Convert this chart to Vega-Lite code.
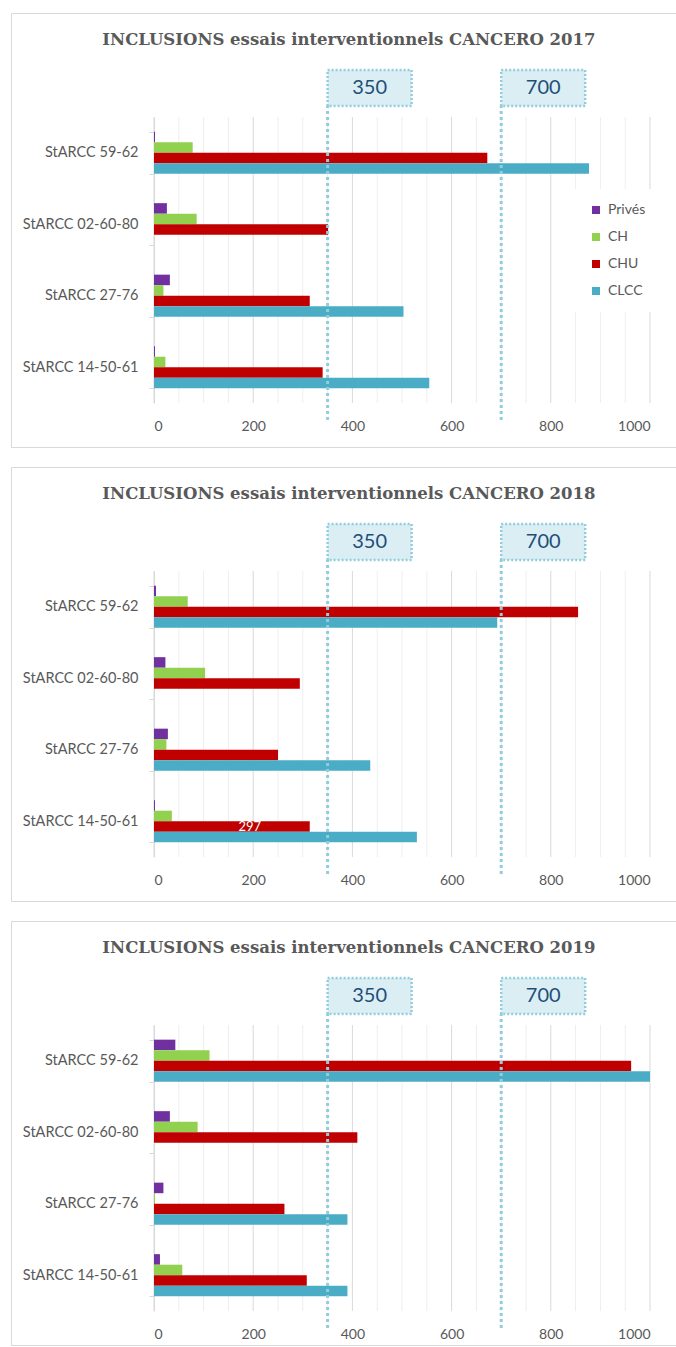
{
  "$schema": "https://vega.github.io/schema/vega-lite/v6.json",
  "padding": {"left": 10, "top": 4, "right": 0, "bottom": 0},
  "background": "white",
  "spacing": 10,
  "datasets": {
    "bars": [
      {"year": 2017, "site": "StARCC 59-62", "type": "Privés", "n": 2},
      {"year": 2017, "site": "StARCC 59-62", "type": "CH", "n": 78},
      {"year": 2017, "site": "StARCC 59-62", "type": "CHU", "n": 672},
      {"year": 2017, "site": "StARCC 59-62", "type": "CLCC", "n": 877},
      {"year": 2017, "site": "StARCC 02-60-80", "type": "Privés", "n": 26},
      {"year": 2017, "site": "StARCC 02-60-80", "type": "CH", "n": 86},
      {"year": 2017, "site": "StARCC 02-60-80", "type": "CHU", "n": 351},
      {"year": 2017, "site": "StARCC 27-76", "type": "Privés", "n": 32},
      {"year": 2017, "site": "StARCC 27-76", "type": "CH", "n": 19},
      {"year": 2017, "site": "StARCC 27-76", "type": "CHU", "n": 314},
      {"year": 2017, "site": "StARCC 27-76", "type": "CLCC", "n": 503},
      {"year": 2017, "site": "StARCC 14-50-61", "type": "Privés", "n": 2},
      {"year": 2017, "site": "StARCC 14-50-61", "type": "CH", "n": 23},
      {"year": 2017, "site": "StARCC 14-50-61", "type": "CHU", "n": 340},
      {"year": 2017, "site": "StARCC 14-50-61", "type": "CLCC", "n": 555},
      {"year": 2018, "site": "StARCC 59-62", "type": "Privés", "n": 4},
      {"year": 2018, "site": "StARCC 59-62", "type": "CH", "n": 68},
      {"year": 2018, "site": "StARCC 59-62", "type": "CHU", "n": 855},
      {"year": 2018, "site": "StARCC 59-62", "type": "CLCC", "n": 692},
      {"year": 2018, "site": "StARCC 02-60-80", "type": "Privés", "n": 23},
      {"year": 2018, "site": "StARCC 02-60-80", "type": "CH", "n": 103},
      {"year": 2018, "site": "StARCC 02-60-80", "type": "CHU", "n": 294},
      {"year": 2018, "site": "StARCC 27-76", "type": "Privés", "n": 28},
      {"year": 2018, "site": "StARCC 27-76", "type": "CH", "n": 25},
      {"year": 2018, "site": "StARCC 27-76", "type": "CHU", "n": 250},
      {"year": 2018, "site": "StARCC 27-76", "type": "CLCC", "n": 436},
      {"year": 2018, "site": "StARCC 14-50-61", "type": "Privés", "n": 2},
      {"year": 2018, "site": "StARCC 14-50-61", "type": "CH", "n": 36},
      {"year": 2018, "site": "StARCC 14-50-61", "type": "CHU", "n": 314},
      {"year": 2018, "site": "StARCC 14-50-61", "type": "CLCC", "n": 530},
      {"year": 2019, "site": "StARCC 59-62", "type": "Privés", "n": 43},
      {"year": 2019, "site": "StARCC 59-62", "type": "CH", "n": 112},
      {"year": 2019, "site": "StARCC 59-62", "type": "CHU", "n": 962},
      {"year": 2019, "site": "StARCC 59-62", "type": "CLCC", "n": 1000},
      {"year": 2019, "site": "StARCC 02-60-80", "type": "Privés", "n": 32},
      {"year": 2019, "site": "StARCC 02-60-80", "type": "CH", "n": 88},
      {"year": 2019, "site": "StARCC 02-60-80", "type": "CHU", "n": 410},
      {"year": 2019, "site": "StARCC 27-76", "type": "Privés", "n": 19},
      {"year": 2019, "site": "StARCC 27-76", "type": "CH", "n": 2},
      {"year": 2019, "site": "StARCC 27-76", "type": "CHU", "n": 263},
      {"year": 2019, "site": "StARCC 27-76", "type": "CLCC", "n": 390},
      {"year": 2019, "site": "StARCC 14-50-61", "type": "Privés", "n": 12},
      {"year": 2019, "site": "StARCC 14-50-61", "type": "CH", "n": 57},
      {"year": 2019, "site": "StARCC 14-50-61", "type": "CHU", "n": 308},
      {"year": 2019, "site": "StARCC 14-50-61", "type": "CLCC", "n": 390}
    ],
    "thresholds": [
      {"t": 350, "label": "350"},
      {"t": 700, "label": "700"}
    ],
    "gridvals": [
      {"v": 0}, {"v": 50}, {"v": 100}, {"v": 150}, {"v": 200}, {"v": 250}, {"v": 300}, {"v": 350}, {"v": 400}, {"v": 450}, {"v": 500},
      {"v": 550}, {"v": 600}, {"v": 650}, {"v": 700}, {"v": 750}, {"v": 800}, {"v": 850}, {"v": 900}, {"v": 950}, {"v": 1000}
    ],
    "titles": [
      {"year": 2017, "title": "INCLUSIONS essais interventionnels CANCERO 2017"},
      {"year": 2018, "title": "INCLUSIONS essais interventionnels CANCERO 2018"},
      {"year": 2019, "title": "INCLUSIONS essais interventionnels CANCERO 2019"}
    ],
    "stray": [
      {"year": 2018, "site": "StARCC 14-50-61", "type": "CHU", "label": "297"}
    ]
  },
  "vconcat": [
    {
      "width": 666, "height": 434,
      "resolve": {"scale": {"y": "independent"}},
      "layer": [
        {
          "data": {"name": "gridvals"},
          "mark": {"type": "rule", "strokeWidth": 1},
          "encoding": {
            "x": {"field": "v", "type": "quantitative", "axis": {"title": null, "offset": -44, "domain": false, "ticks": false, "tickSize": 0, "grid": false, "labelPadding": 16, "format": "d", "values": [0, 200, 400, 600, 800, 1000], "labelFontSize": 14, "labelColor": "#595959", "labelFont": "Lato"}},
            "y": {"datum": 17, "type": "quantitative", "scale": {"domain": [0, 350], "range": [407, 57]}, "axis": null},
            "y2": {"datum": 303},
            "color": {"condition": {"test": "datum.v % 200 === 0", "value": "#d9d9d9"}, "value": "#eeeeee"}
          }
        },
        {
          "data": {"name": "bars"},
          "transform": [{"filter": "datum.year === 2017"}],
          "mark": {"type": "bar"},
          "encoding": {
            "x": {"field": "n", "type": "quantitative", "scale": {"domain": [0, 1000], "range": [143, 639], "nice": false},
              "axis": {"title": null, "offset": -44, "domain": false, "ticks": false, "tickSize": 0, "grid": false, "labelPadding": 16, "format": "d", "values": [0, 200, 400, 600, 800, 1000], "labelFontSize": 14, "labelColor": "#595959", "labelFont": "Lato"}},
            "y": {"field": "site", "type": "nominal", "sort": ["StARCC 59-62", "StARCC 02-60-80", "StARCC 27-76", "StARCC 14-50-61"], "scale": {"range": [104, 390], "paddingInner": 0.41, "paddingOuter": 0.205},
              "axis": {"title": null, "offset": -143, "grid": false, "domainColor": "#d9d9d9", "tickColor": "#d9d9d9", "tickSize": 5, "tickBand": "extent", "labelPadding": 11, "labelFontSize": 14.5, "labelColor": "#595959", "labelFont": "Lato"}},
            "yOffset": {"field": "type", "type": "nominal", "sort": ["Privés", "CH", "CHU", "CLCC"]},
            "color": {"field": "type", "type": "nominal", "scale": {"domain": ["Privés", "CH", "CHU", "CLCC"], "range": ["#7030a0", "#92d050", "#c00000", "#4bacc6"]},
              "legend": {"title": null, "orient": "none", "legendX": 564, "legendY": 176, "fillColor": "white", "padding": 14, "symbolType": "square", "symbolSize": 64, "symbolStrokeWidth": 0, "labelFontSize": 14, "labelColor": "#595959", "labelFont": "Lato", "rowPadding": 13, "labelOffset": 5}}
          }
        },
        {
          "data": {"name": "thresholds"},
          "mark": {"type": "rule", "color": "#92cddc", "strokeWidth": 3, "strokeDash": [3, 3]},
          "encoding": {
            "x": {"field": "t", "type": "quantitative", "axis": {"title": null, "offset": -44, "domain": false, "ticks": false, "tickSize": 0, "grid": false, "labelPadding": 16, "format": "d", "values": [0, 200, 400, 600, 800, 1000], "labelFontSize": 14, "labelColor": "#595959", "labelFont": "Lato"}},
            "y": {"datum": 0, "type": "quantitative", "scale": {"domain": [0, 350], "range": [407, 57]}, "axis": null},
            "y2": {"datum": 314}
          }
        },
        {
          "data": {"name": "thresholds"},
          "mark": {"type": "rect", "fill": "#daeef3", "stroke": "#92cddc", "strokeWidth": 2.5, "strokeDash": [2, 2], "x2Offset": 84},
          "encoding": {
            "x": {"field": "t", "type": "quantitative", "axis": {"title": null, "offset": -44, "domain": false, "ticks": false, "tickSize": 0, "grid": false, "labelPadding": 16, "format": "d", "values": [0, 200, 400, 600, 800, 1000], "labelFontSize": 14, "labelColor": "#595959", "labelFont": "Lato"}},
            "x2": {"field": "t"},
            "y": {"datum": 314, "type": "quantitative", "scale": {"domain": [0, 350], "range": [407, 57]}, "axis": null},
            "y2": {"datum": 350}
          }
        },
        {
          "data": {"name": "thresholds"},
          "mark": {"type": "text", "dx": 42, "align": "center", "baseline": "middle", "font": "Lato", "fontSize": 20, "color": "#1f4e79"},
          "encoding": {
            "x": {"field": "t", "type": "quantitative", "axis": {"title": null, "offset": -44, "domain": false, "ticks": false, "tickSize": 0, "grid": false, "labelPadding": 16, "format": "d", "values": [0, 200, 400, 600, 800, 1000], "labelFontSize": 14, "labelColor": "#595959", "labelFont": "Lato"}},
            "y": {"datum": 332, "type": "quantitative", "scale": {"domain": [0, 350], "range": [407, 57]}, "axis": null},
            "text": {"field": "label"}
          }
        },
        {
          "data": {"name": "titles"},
          "transform": [{"filter": "datum.year === 2017"}],
          "mark": {"type": "text", "align": "center", "baseline": "middle", "font": "DejaVu Serif", "fontSize": 16.5, "fontWeight": "bold", "color": "#595959"},
          "encoding": {
            "x": {"datum": 393, "type": "quantitative", "axis": {"title": null, "offset": -44, "domain": false, "ticks": false, "tickSize": 0, "grid": false, "labelPadding": 16, "format": "d", "values": [0, 200, 400, 600, 800, 1000], "labelFontSize": 14, "labelColor": "#595959", "labelFont": "Lato"}},
            "y": {"datum": 380, "type": "quantitative", "scale": {"domain": [0, 350], "range": [407, 57]}, "axis": null},
            "text": {"field": "title"}
          }
        }
      ]
    },
    {
      "width": 666, "height": 434,
      "resolve": {"scale": {"y": "independent"}},
      "layer": [
        {
          "data": {"name": "gridvals"},
          "mark": {"type": "rule", "strokeWidth": 1},
          "encoding": {
            "x": {"field": "v", "type": "quantitative", "axis": {"title": null, "offset": -44, "domain": false, "ticks": false, "tickSize": 0, "grid": false, "labelPadding": 16, "format": "d", "values": [0, 200, 400, 600, 800, 1000], "labelFontSize": 14, "labelColor": "#595959", "labelFont": "Lato"}},
            "y": {"datum": 17, "type": "quantitative", "scale": {"domain": [0, 350], "range": [407, 57]}, "axis": null},
            "y2": {"datum": 303},
            "color": {"condition": {"test": "datum.v % 200 === 0", "value": "#d9d9d9"}, "value": "#eeeeee"}
          }
        },
        {
          "data": {"name": "bars"},
          "transform": [{"filter": "datum.year === 2018"}],
          "mark": {"type": "bar"},
          "encoding": {
            "x": {"field": "n", "type": "quantitative", "scale": {"domain": [0, 1000], "range": [143, 639], "nice": false},
              "axis": {"title": null, "offset": -44, "domain": false, "ticks": false, "tickSize": 0, "grid": false, "labelPadding": 16, "format": "d", "values": [0, 200, 400, 600, 800, 1000], "labelFontSize": 14, "labelColor": "#595959", "labelFont": "Lato"}},
            "y": {"field": "site", "type": "nominal", "sort": ["StARCC 59-62", "StARCC 02-60-80", "StARCC 27-76", "StARCC 14-50-61"], "scale": {"range": [104, 390], "paddingInner": 0.41, "paddingOuter": 0.205},
              "axis": {"title": null, "offset": -143, "grid": false, "domainColor": "#d9d9d9", "tickColor": "#d9d9d9", "tickSize": 5, "tickBand": "extent", "labelPadding": 11, "labelFontSize": 14.5, "labelColor": "#595959", "labelFont": "Lato"}},
            "yOffset": {"field": "type", "type": "nominal", "sort": ["Privés", "CH", "CHU", "CLCC"]},
            "color": {"field": "type", "type": "nominal", "scale": {"domain": ["Privés", "CH", "CHU", "CLCC"], "range": ["#7030a0", "#92d050", "#c00000", "#4bacc6"]},
              "legend": {"title": null, "orient": "none", "legendX": 564, "legendY": 176, "fillColor": "white", "padding": 14, "symbolType": "square", "symbolSize": 64, "symbolStrokeWidth": 0, "labelFontSize": 14, "labelColor": "#595959", "labelFont": "Lato", "rowPadding": 13, "labelOffset": 5}}
          }
        },
        {
          "data": {"name": "stray"},
          "mark": {"type": "text", "color": "white", "font": "Lato", "fontSize": 13, "align": "center", "baseline": "middle"},
          "encoding": {
            "x": {"datum": 193, "type": "quantitative", "axis": {"title": null, "offset": -44, "domain": false, "ticks": false, "tickSize": 0, "grid": false, "labelPadding": 16, "format": "d", "values": [0, 200, 400, 600, 800, 1000], "labelFontSize": 14, "labelColor": "#595959", "labelFont": "Lato"}},
            "y": {"field": "site", "type": "nominal", "sort": ["StARCC 59-62", "StARCC 02-60-80", "StARCC 27-76", "StARCC 14-50-61"], "scale": {"domain": ["StARCC 59-62", "StARCC 02-60-80", "StARCC 27-76", "StARCC 14-50-61"], "range": [104, 390], "paddingInner": 0.41, "paddingOuter": 0.205}, "axis": null},
            "yOffset": {"field": "type", "type": "nominal", "sort": ["Privés", "CH", "CHU", "CLCC"]},
            "text": {"field": "label"}
          }
        },
        {
          "data": {"name": "thresholds"},
          "mark": {"type": "rule", "color": "#92cddc", "strokeWidth": 3, "strokeDash": [3, 3]},
          "encoding": {
            "x": {"field": "t", "type": "quantitative", "axis": {"title": null, "offset": -44, "domain": false, "ticks": false, "tickSize": 0, "grid": false, "labelPadding": 16, "format": "d", "values": [0, 200, 400, 600, 800, 1000], "labelFontSize": 14, "labelColor": "#595959", "labelFont": "Lato"}},
            "y": {"datum": 0, "type": "quantitative", "scale": {"domain": [0, 350], "range": [407, 57]}, "axis": null},
            "y2": {"datum": 314}
          }
        },
        {
          "data": {"name": "thresholds"},
          "mark": {"type": "rect", "fill": "#daeef3", "stroke": "#92cddc", "strokeWidth": 2.5, "strokeDash": [2, 2], "x2Offset": 84},
          "encoding": {
            "x": {"field": "t", "type": "quantitative", "axis": {"title": null, "offset": -44, "domain": false, "ticks": false, "tickSize": 0, "grid": false, "labelPadding": 16, "format": "d", "values": [0, 200, 400, 600, 800, 1000], "labelFontSize": 14, "labelColor": "#595959", "labelFont": "Lato"}},
            "x2": {"field": "t"},
            "y": {"datum": 314, "type": "quantitative", "scale": {"domain": [0, 350], "range": [407, 57]}, "axis": null},
            "y2": {"datum": 350}
          }
        },
        {
          "data": {"name": "thresholds"},
          "mark": {"type": "text", "dx": 42, "align": "center", "baseline": "middle", "font": "Lato", "fontSize": 20, "color": "#1f4e79"},
          "encoding": {
            "x": {"field": "t", "type": "quantitative", "axis": {"title": null, "offset": -44, "domain": false, "ticks": false, "tickSize": 0, "grid": false, "labelPadding": 16, "format": "d", "values": [0, 200, 400, 600, 800, 1000], "labelFontSize": 14, "labelColor": "#595959", "labelFont": "Lato"}},
            "y": {"datum": 332, "type": "quantitative", "scale": {"domain": [0, 350], "range": [407, 57]}, "axis": null},
            "text": {"field": "label"}
          }
        },
        {
          "data": {"name": "titles"},
          "transform": [{"filter": "datum.year === 2018"}],
          "mark": {"type": "text", "align": "center", "baseline": "middle", "font": "DejaVu Serif", "fontSize": 16.5, "fontWeight": "bold", "color": "#595959"},
          "encoding": {
            "x": {"datum": 393, "type": "quantitative", "axis": {"title": null, "offset": -44, "domain": false, "ticks": false, "tickSize": 0, "grid": false, "labelPadding": 16, "format": "d", "values": [0, 200, 400, 600, 800, 1000], "labelFontSize": 14, "labelColor": "#595959", "labelFont": "Lato"}},
            "y": {"datum": 380, "type": "quantitative", "scale": {"domain": [0, 350], "range": [407, 57]}, "axis": null},
            "text": {"field": "title"}
          }
        }
      ]
    },
    {
      "width": 666, "height": 424,
      "resolve": {"scale": {"y": "independent"}},
      "layer": [
        {
          "data": {"name": "gridvals"},
          "mark": {"type": "rule", "strokeWidth": 1},
          "encoding": {
            "x": {"field": "v", "type": "quantitative", "axis": {"title": null, "offset": -34, "domain": false, "ticks": false, "tickSize": 0, "grid": false, "labelPadding": 16, "format": "d", "values": [0, 200, 400, 600, 800, 1000], "labelFontSize": 14, "labelColor": "#595959", "labelFont": "Lato"}},
            "y": {"datum": 17, "type": "quantitative", "scale": {"domain": [0, 350], "range": [407, 57]}, "axis": null},
            "y2": {"datum": 303},
            "color": {"condition": {"test": "datum.v % 200 === 0", "value": "#d9d9d9"}, "value": "#eeeeee"}
          }
        },
        {
          "data": {"name": "bars"},
          "transform": [{"filter": "datum.year === 2019"}],
          "mark": {"type": "bar"},
          "encoding": {
            "x": {"field": "n", "type": "quantitative", "scale": {"domain": [0, 1000], "range": [143, 639], "nice": false},
              "axis": {"title": null, "offset": -34, "domain": false, "ticks": false, "tickSize": 0, "grid": false, "labelPadding": 16, "format": "d", "values": [0, 200, 400, 600, 800, 1000], "labelFontSize": 14, "labelColor": "#595959", "labelFont": "Lato"}},
            "y": {"field": "site", "type": "nominal", "sort": ["StARCC 59-62", "StARCC 02-60-80", "StARCC 27-76", "StARCC 14-50-61"], "scale": {"range": [104, 390], "paddingInner": 0.41, "paddingOuter": 0.205},
              "axis": {"title": null, "offset": -143, "grid": false, "domainColor": "#d9d9d9", "tickColor": "#d9d9d9", "tickSize": 5, "tickBand": "extent", "labelPadding": 11, "labelFontSize": 14.5, "labelColor": "#595959", "labelFont": "Lato"}},
            "yOffset": {"field": "type", "type": "nominal", "sort": ["Privés", "CH", "CHU", "CLCC"]},
            "color": {"field": "type", "type": "nominal", "scale": {"domain": ["Privés", "CH", "CHU", "CLCC"], "range": ["#7030a0", "#92d050", "#c00000", "#4bacc6"]},
              "legend": {"title": null, "orient": "none", "legendX": 564, "legendY": 176, "fillColor": "white", "padding": 14, "symbolType": "square", "symbolSize": 64, "symbolStrokeWidth": 0, "labelFontSize": 14, "labelColor": "#595959", "labelFont": "Lato", "rowPadding": 13, "labelOffset": 5}}
          }
        },
        {
          "data": {"name": "thresholds"},
          "mark": {"type": "rule", "color": "#92cddc", "strokeWidth": 3, "strokeDash": [3, 3]},
          "encoding": {
            "x": {"field": "t", "type": "quantitative", "axis": {"title": null, "offset": -34, "domain": false, "ticks": false, "tickSize": 0, "grid": false, "labelPadding": 16, "format": "d", "values": [0, 200, 400, 600, 800, 1000], "labelFontSize": 14, "labelColor": "#595959", "labelFont": "Lato"}},
            "y": {"datum": 0, "type": "quantitative", "scale": {"domain": [0, 350], "range": [407, 57]}, "axis": null},
            "y2": {"datum": 314}
          }
        },
        {
          "data": {"name": "thresholds"},
          "mark": {"type": "rect", "fill": "#daeef3", "stroke": "#92cddc", "strokeWidth": 2.5, "strokeDash": [2, 2], "x2Offset": 84},
          "encoding": {
            "x": {"field": "t", "type": "quantitative", "axis": {"title": null, "offset": -34, "domain": false, "ticks": false, "tickSize": 0, "grid": false, "labelPadding": 16, "format": "d", "values": [0, 200, 400, 600, 800, 1000], "labelFontSize": 14, "labelColor": "#595959", "labelFont": "Lato"}},
            "x2": {"field": "t"},
            "y": {"datum": 314, "type": "quantitative", "scale": {"domain": [0, 350], "range": [407, 57]}, "axis": null},
            "y2": {"datum": 350}
          }
        },
        {
          "data": {"name": "thresholds"},
          "mark": {"type": "text", "dx": 42, "align": "center", "baseline": "middle", "font": "Lato", "fontSize": 20, "color": "#1f4e79"},
          "encoding": {
            "x": {"field": "t", "type": "quantitative", "axis": {"title": null, "offset": -34, "domain": false, "ticks": false, "tickSize": 0, "grid": false, "labelPadding": 16, "format": "d", "values": [0, 200, 400, 600, 800, 1000], "labelFontSize": 14, "labelColor": "#595959", "labelFont": "Lato"}},
            "y": {"datum": 332, "type": "quantitative", "scale": {"domain": [0, 350], "range": [407, 57]}, "axis": null},
            "text": {"field": "label"}
          }
        },
        {
          "data": {"name": "titles"},
          "transform": [{"filter": "datum.year === 2019"}],
          "mark": {"type": "text", "align": "center", "baseline": "middle", "font": "DejaVu Serif", "fontSize": 16.5, "fontWeight": "bold", "color": "#595959"},
          "encoding": {
            "x": {"datum": 393, "type": "quantitative", "axis": {"title": null, "offset": -34, "domain": false, "ticks": false, "tickSize": 0, "grid": false, "labelPadding": 16, "format": "d", "values": [0, 200, 400, 600, 800, 1000], "labelFontSize": 14, "labelColor": "#595959", "labelFont": "Lato"}},
            "y": {"datum": 380, "type": "quantitative", "scale": {"domain": [0, 350], "range": [407, 57]}, "axis": null},
            "text": {"field": "title"}
          }
        }
      ]
    }
  ],
  "config": {
    "view": {"stroke": "#d9d9d9", "strokeWidth": 1},
    "font": "Lato",
    "bar": {"stroke": null}
  }
}
